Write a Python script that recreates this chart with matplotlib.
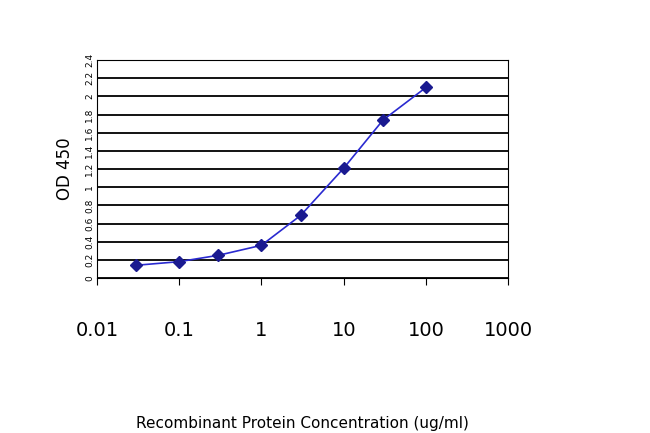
import matplotlib
matplotlib.use("Agg")
import matplotlib.pyplot as plt

conc = [0.03, 0.1, 0.3, 1, 3, 10, 30, 100]
od = [0.14, 0.18, 0.25, 0.36, 0.69, 1.21, 1.74, 2.10]
yticks = [0, 0.2, 0.4, 0.6, 0.8, 1, 1.2, 1.4, 1.6, 1.8, 2, 2.2, 2.4]
ytick_labels = ["0", "0.2", "0.4", "0.6", "0.8", "1", "1.2", "1.4", "1.6", "1.8", "2", "2.2", "2.4"]
xticks = [0.01, 0.1, 1, 10, 100, 1000]
xtick_labels = ["0.01", "0.1", "1", "10", "100", "1000"]

fig = plt.figure(figsize=(6.5, 4.33), dpi=100)
ax = fig.add_axes([0.149, 0.358, 0.633, 0.503])
ax.set_xscale("log")
ax.set_xlim(0.01, 1000)
ax.set_ylim(0, 2.4)
for y in yticks:
    ax.axhline(y, color="black", lw=1.3, zorder=1)
ax.plot(conc, od, color="#2a2ad0", lw=1.2, marker="D", ms=6,
        markerfacecolor="#1a1a90", markeredgecolor="#1a1a90", zorder=3)
ax.set_yticks(yticks)
ax.set_yticklabels(ytick_labels, fontsize=6.5, rotation=90, va="center")
ax.set_xticks(xticks)
ax.set_xticklabels(xtick_labels, fontsize=14)
ax.minorticks_off()
ax.tick_params(axis="y", length=0, pad=2)
ax.tick_params(axis="x", direction="out", length=5, pad=26)
for s in ax.spines.values():
    s.set_color("black")
ax.set_ylabel("OD 450", fontsize=12, labelpad=8)
ax.set_xlabel("Recombinant Protein Concentration (ug/ml)", fontsize=11, labelpad=55)
fig.savefig("out.png", dpi=100)
